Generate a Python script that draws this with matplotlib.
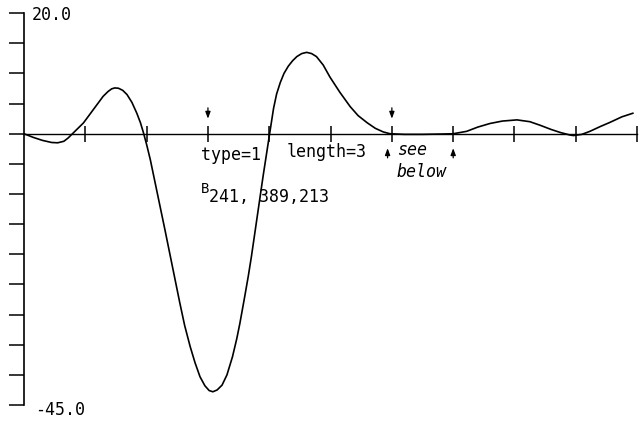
import numpy as np
import matplotlib.pyplot as plt

# curve (x in tick units, y in plot units)
xs = [0.0, 0.15, 0.3, 0.45, 0.55, 0.65, 0.72, 0.80, 0.88, 0.97, 1.05, 1.13, 1.21,
      1.29, 1.37, 1.43, 1.48, 1.54, 1.61, 1.68, 1.76, 1.84, 1.90, 1.95, 2.0,
      2.06, 2.14, 2.22, 2.30, 2.38, 2.46, 2.54, 2.62, 2.71, 2.79, 2.87, 2.95,
      3.02, 3.08, 3.15, 3.23, 3.31, 3.40, 3.47, 3.52, 3.60, 3.66, 3.71, 3.80,
      3.90, 4.0, 4.07, 4.12, 4.18, 4.24, 4.31, 4.38, 4.45, 4.53, 4.61, 4.69,
      4.77, 4.88, 4.99, 5.15, 5.32, 5.45, 5.6, 5.73, 5.86, 5.97, 6.2, 6.5,
      6.8, 7.0, 7.22, 7.4, 7.6, 7.8, 8.04, 8.25, 8.42, 8.6, 8.75, 8.9, 8.96,
      9.1, 9.23, 9.4, 9.56, 9.75, 9.93]
ys = [0.0, -0.6, -1.1, -1.45, -1.5, -1.25, -0.7, 0.1, 0.9, 1.8, 2.9, 4.0, 5.1,
      6.2, 7.0, 7.45, 7.6, 7.55, 7.2, 6.5, 5.2, 3.4, 1.8, 0.1, -1.8,
      -4.3, -8.2, -12.1, -16.0, -20.0, -24.0, -28.0, -31.8, -35.3, -38.0, -40.3, -41.8,
      -42.6, -42.8, -42.5, -41.7, -40.0, -37.0, -34.0, -31.5, -27.0, -23.5, -20.3, -14.0,
      -7.0, -0.4, 4.2, 6.6, 8.5, 10.0, 11.2, 12.1, 12.8, 13.3, 13.5, 13.3,
      12.8, 11.4, 9.4, 6.9, 4.5, 3.0, 1.8, 0.9, 0.3, 0.0, -0.1, -0.1,
      -0.05, 0.0, 0.4, 1.1, 1.7, 2.1, 2.3, 2.0, 1.4, 0.7, 0.2, -0.2, -0.3,
      -0.1, 0.4, 1.2, 1.9, 2.8, 3.4]

y_min, y_max, y_step = -45.0, 20.0, 5.0
x_ticks = list(range(1, 11))
down_marks = [3, 6]
up_marks = [5.93, 7]

mono = 'DejaVu Sans Mono'

fig = plt.figure(figsize=(6.42, 4.25), dpi=100)
ax = fig.add_axes([0.0374, 0.047, 0.955, 0.922])
ax.plot(xs, ys, color='black', lw=1.2)
ax.set_xlim(0, 10)
ax.set_ylim(y_min, y_max)

for s in ['top', 'right']:
    ax.spines[s].set_visible(False)
ax.spines['bottom'].set_position(('data', 0))
ax.spines['left'].set_linewidth(1.2)
ax.spines['bottom'].set_linewidth(1.0)

ax.set_yticks(np.arange(y_min, y_max + 1, y_step))
ax.set_xticks(x_ticks)
ax.tick_params(axis='y', direction='out', length=11, width=1.1, labelleft=False)
ax.tick_params(axis='x', direction='inout', length=11.5, width=1.1, labelbottom=False)

ax.text(0.13, 19.7, '20.0', family=mono, fontsize=12, va='center')
ax.text(0.18, -45.9, '-45.0', family=mono, fontsize=12, va='center')

# markers on the axis
arrow = dict(arrowstyle='-|>,head_length=0.4,head_width=0.15', color='black',
             lw=0.9, shrinkA=0, shrinkB=0)
for m in down_marks:
    ax.annotate('', xy=(m, 2.5), xytext=(m, 4.3), arrowprops=arrow)
for m in up_marks:
    ax.annotate('', xy=(m, -2.4), xytext=(m, -4.0), arrowprops=arrow)

ax.text(2.89, -4.3, 'type=1', family=mono, fontsize=12, va='baseline')
ax.text(4.29, -3.8, 'length=3', family=mono, fontsize=12, va='baseline')
ax.text(6.08, -3.5, 'see', family=mono, style='italic', fontsize=12, va='baseline')
ax.text(6.07, -7.1, 'below', family=mono, style='italic', fontsize=12, va='baseline')
ax.text(2.89, -9.8, 'B', family=mono, fontsize=10, va='baseline')
ax.text(3.02, -11.4, '241, 389,213', family=mono, fontsize=12, va='baseline')

fig.savefig('out.png', dpi=100)
